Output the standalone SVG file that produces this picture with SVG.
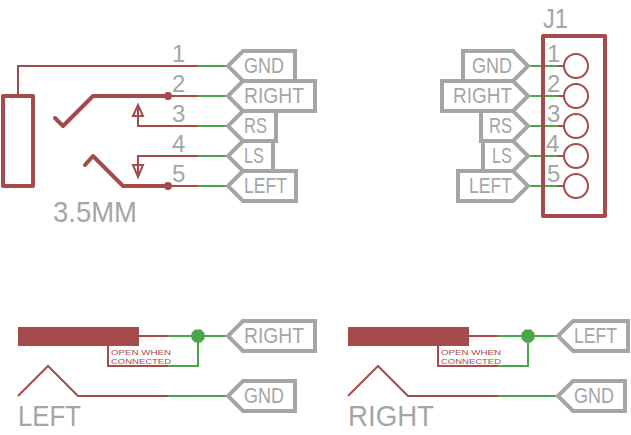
<svg xmlns="http://www.w3.org/2000/svg" width="631" height="435" viewBox="0 0 631 435">
<style>
text{font-family:"Liberation Sans",Arial,sans-serif;fill:#a5a5a5}
.l{font-size:22px}
.n{font-size:24px}
.j{font-size:27px}
.b{font-size:30px}
.s{font-size:8px;fill:#a54b4b}
.flag{fill:none;stroke:#a5a5a5;stroke-width:4;stroke-linejoin:miter}
.w{fill:none;stroke:#a54b4b;stroke-width:2}
.t{fill:none;stroke:#a54b4b;stroke-width:4;stroke-linecap:round;stroke-linejoin:round}
.g{fill:none;stroke:#4ba54b;stroke-width:2}
.d{fill:#a54b4b}
.dg{fill:#4ba54b}
</style>
<rect width="631" height="435" fill="#fff"/>
<g id="connectors">
<path class="w" d="M18 96V66H198M168 96H198M138 116V126H198M138 165V156H198M168 186H198"/>
<path class="g" d="M198 66H228M198 96H228M198 126H228M198 156H228M198 186H228"/>
<path class="g" d="M528 66H558M528 96H558M528 126H558M528 156H558M528 186H558"/>
<path class="w" d="M558 66H564M558 96H564M558 126H564M558 156H564M558 186H564"/>
<path class="w" d="M139 336H168M168 366H108V346M18 396L48 366L78 396H168"/>
<path class="g" d="M168 336H228M168 366H198V336M168 396H228"/>
<path class="w" d="M469 336H498M498 366H438V346M348 396L378 366L408 396H498"/>
<path class="g" d="M498 336H558M498 366H528V336M498 396H558"/>
</g>
<g id="jack-3-5mm">
<rect x="3" y="96" width="30" height="90" class="t"/>
<path class="t" d="M55 118L63 126L93 96H168M85 165L93 156L123 186H168"/>
<circle class="d" cx="168" cy="96" r="4"/>
<circle class="d" cx="168" cy="186" r="4"/>
<path class="w" d="M138 105L143 116H133ZM138 108V116"/>
<path class="w" d="M138 177L143 165H133ZM138 165V174"/>
<text class="n" x="172" y="62">1</text>
<text class="n" x="172" y="92">2</text>
<text class="n" x="172" y="122">3</text>
<text class="n" x="172" y="152">4</text>
<text class="n" x="172" y="182">5</text>
<text class="b" x="53" y="222" textLength="84" lengthAdjust="spacingAndGlyphs">3.5MM</text>
</g>
<g id="flag-gnd-left"><path class="flag" d="M228 66L243 51H295V81H243Z"/><text class="l" x="244" y="73" textLength="40" lengthAdjust="spacingAndGlyphs">GND</text></g>
<g id="flag-right-left"><path class="flag" d="M228 96L243 81H315V111H243Z"/><text class="l" x="244" y="103" textLength="60" lengthAdjust="spacingAndGlyphs">RIGHT</text></g>
<g id="flag-rs-left"><path class="flag" d="M228 126L243 111H276V141H243Z"/><text class="l" x="244" y="133" textLength="23" lengthAdjust="spacingAndGlyphs">RS</text></g>
<g id="flag-ls-left"><path class="flag" d="M228 156L243 141H273V171H243Z"/><text class="l" x="244" y="163" textLength="20" lengthAdjust="spacingAndGlyphs">LS</text></g>
<g id="flag-left-left"><path class="flag" d="M228 186L243 171H296V201H243Z"/><text class="l" x="244" y="193" textLength="43" lengthAdjust="spacingAndGlyphs">LEFT</text></g>
<g id="header-j1">
<rect x="543" y="36" width="62" height="180" fill="none" stroke="#a54b4b" stroke-width="4" stroke-linejoin="round"/>
<g fill="none" stroke="#a54b4b" stroke-width="2">
<circle cx="576" cy="66" r="12"/><circle cx="576" cy="96" r="12"/><circle cx="576" cy="126" r="12"/><circle cx="576" cy="156" r="12"/><circle cx="576" cy="186" r="12"/>
</g>
<text class="j" x="543" y="28" textLength="25" lengthAdjust="spacingAndGlyphs">J1</text>
<text class="n" x="547" y="62">1</text>
<text class="n" x="547" y="92">2</text>
<text class="n" x="547" y="122">3</text>
<text class="n" x="546" y="152">4</text>
<text class="n" x="547" y="182">5</text>
</g>
<g id="flag-gnd-right"><path class="flag" d="M528 66L513 51H463V81H513Z"/><text class="l" x="472" y="73" textLength="40" lengthAdjust="spacingAndGlyphs">GND</text></g>
<g id="flag-right-right"><path class="flag" d="M528 96L513 81H442V111H513Z"/><text class="l" x="453" y="103" textLength="59" lengthAdjust="spacingAndGlyphs">RIGHT</text></g>
<g id="flag-rs-right"><path class="flag" d="M528 126L513 111H481V141H513Z"/><text class="l" x="489" y="133" textLength="23" lengthAdjust="spacingAndGlyphs">RS</text></g>
<g id="flag-ls-right"><path class="flag" d="M528 156L513 141H483V171H513Z"/><text class="l" x="492" y="163" textLength="20" lengthAdjust="spacingAndGlyphs">LS</text></g>
<g id="flag-left-right"><path class="flag" d="M528 186L513 171H458V201H513Z"/><text class="l" x="469" y="193" textLength="43" lengthAdjust="spacingAndGlyphs">LEFT</text></g>
<g id="left-switch">
<rect x="18" y="327" width="121" height="19" class="d"/>
<path class="dg" d="M195 329.500H201L204.500 333V339L201 342.500H195L191.500 339V333Z"/>
<text class="s" x="111" y="354.500" textLength="60" lengthAdjust="spacingAndGlyphs">OPEN WHEN</text>
<text class="s" x="111" y="363.500" textLength="60" lengthAdjust="spacingAndGlyphs">CONNECTED</text>
<text class="b" x="18" y="426" textLength="63" lengthAdjust="spacingAndGlyphs">LEFT</text>
</g>
<g id="flag-right-bottom"><path class="flag" d="M228 336L243 321H315V351H243Z"/><text class="l" x="244" y="343" textLength="60" lengthAdjust="spacingAndGlyphs">RIGHT</text></g>
<g id="flag-gnd-bottom"><path class="flag" d="M228 396L243 381H295V411H243Z"/><text class="l" x="244" y="403" textLength="40" lengthAdjust="spacingAndGlyphs">GND</text></g>
<g id="right-switch">
<rect x="348" y="327" width="121" height="19" class="d"/>
<path class="dg" d="M525 329.500H531L534.500 333V339L531 342.500H525L521.500 339V333Z"/>
<text class="s" x="441" y="354.500" textLength="60" lengthAdjust="spacingAndGlyphs">OPEN WHEN</text>
<text class="s" x="441" y="363.500" textLength="60" lengthAdjust="spacingAndGlyphs">CONNECTED</text>
<text class="b" x="348" y="426" textLength="86" lengthAdjust="spacingAndGlyphs">RIGHT</text>
</g>
<g id="flag-left-bottom"><path class="flag" d="M558 336L573 321H628V351H573Z"/><text class="l" x="574" y="343" textLength="43" lengthAdjust="spacingAndGlyphs">LEFT</text></g>
<g id="flag-gnd-bottom-2"><path class="flag" d="M558 396L573 381H625V411H573Z"/><text class="l" x="574" y="403" textLength="40" lengthAdjust="spacingAndGlyphs">GND</text></g>
</svg>
